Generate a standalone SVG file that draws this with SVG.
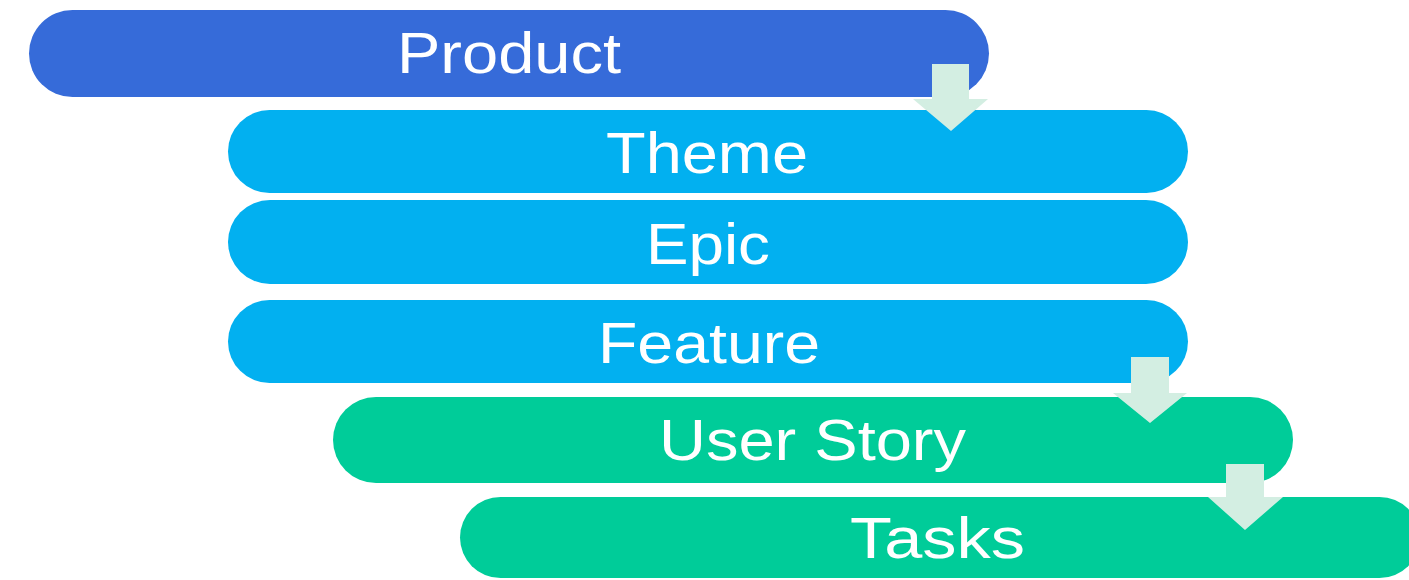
<svg xmlns="http://www.w3.org/2000/svg" width="1409" height="580" viewBox="0 0 1409 580">
<style>
.t{fill:#ffffff;font-family:"Liberation Sans",Arial,sans-serif;font-size:57px}
.arr{fill:#D3EEE2}
</style>
<rect width="1409" height="580" fill="#ffffff"/>
<g id="product"><rect x="29" y="10" width="960" height="87" rx="43.5" fill="#366BD9"/><text class="t" x="397" y="73" textLength="224" lengthAdjust="spacingAndGlyphs">Product</text></g>
<g id="theme"><rect x="228" y="110" width="960" height="83" rx="41.5" fill="#02B0F0"/><text class="t" x="606" y="173" textLength="202" lengthAdjust="spacingAndGlyphs">Theme</text></g>
<g id="epic"><rect x="228" y="200" width="960" height="84" rx="42" fill="#02B0F0"/><text class="t" x="646" y="264" textLength="124" lengthAdjust="spacingAndGlyphs">Epic</text></g>
<g id="feature"><rect x="228" y="300" width="960" height="83" rx="41.5" fill="#02B0F0"/><text class="t" x="598" y="363" textLength="222" lengthAdjust="spacingAndGlyphs">Feature</text></g>
<g id="userstory"><rect x="333" y="397" width="960" height="86" rx="43" fill="#00CC99"/><text class="t" x="659" y="460" textLength="307" lengthAdjust="spacingAndGlyphs">User Story</text></g>
<g id="tasks"><rect x="460" y="497" width="960" height="81" rx="40.5" fill="#00CC99"/><text class="t" x="850" y="558" textLength="175" lengthAdjust="spacingAndGlyphs">Tasks</text></g>
<g id="connectors">
<polygon class="arr" points="932,64 969,64 969,99 988,99 951,131 913,99 932,99"/>
<polygon class="arr" points="1131,357 1169,357 1169,393 1187,393 1150,423 1113,393 1131,393"/>
<polygon class="arr" points="1226,464 1264,464 1264,497 1283,497 1245,530 1208,497 1226,497"/>
</g>
</svg>
